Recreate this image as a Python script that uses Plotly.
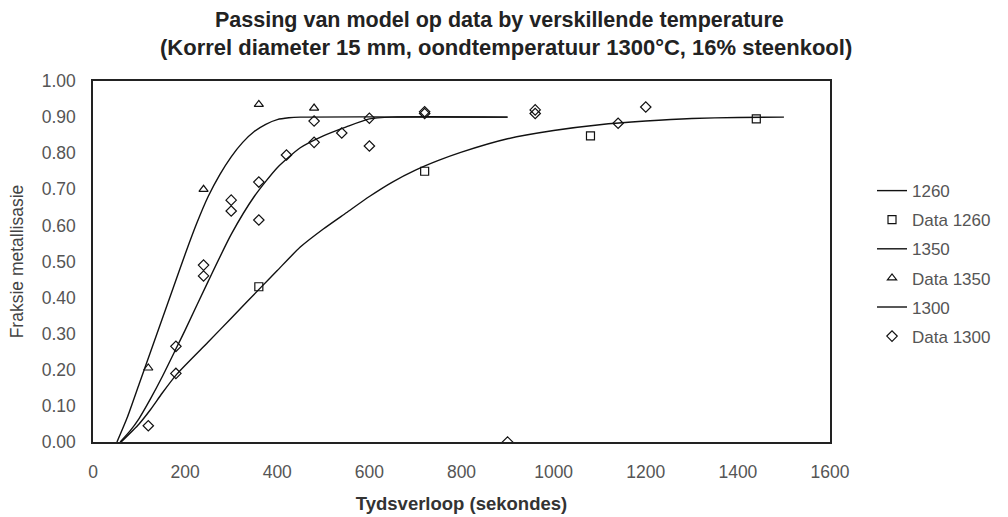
import plotly.graph_objects as go

# Model curves
t_1260 = [61, 100, 125, 150, 182, 250, 300, 365, 400, 450, 500, 550, 600, 650, 700, 750, 800, 900, 1000, 1100, 1200, 1300, 1400, 1500]
y_1260 = [0.0, 0.05, 0.09, 0.135, 0.188, 0.277, 0.343, 0.429, 0.475, 0.54, 0.59, 0.635, 0.68, 0.72, 0.753, 0.78, 0.803, 0.84, 0.863, 0.879, 0.889, 0.896, 0.899, 0.90]

t_1350 = [52, 75, 100, 125, 150, 175, 200, 225, 250, 275, 300, 325, 350, 375, 400, 425, 450, 900]
y_1350 = [0.0, 0.07, 0.16, 0.25, 0.34, 0.43, 0.52, 0.605, 0.68, 0.74, 0.79, 0.83, 0.86, 0.88, 0.893, 0.898, 0.90, 0.90]

t_1300 = [59, 80, 100, 125, 150, 182, 200, 250, 300, 350, 400, 450, 500, 550, 600, 650, 900]
y_1300 = [0.0, 0.03, 0.065, 0.12, 0.18, 0.263, 0.31, 0.445, 0.575, 0.68, 0.76, 0.815, 0.848, 0.873, 0.895, 0.90, 0.90]

# Measured data
dt_1260 = [360, 720, 1080, 1440]
dy_1260 = [0.43, 0.75, 0.848, 0.895]

dt_1350 = [120, 240, 360, 480]
dy_1350 = [0.205, 0.70, 0.935, 0.925]

dt_1300 = [120, 180, 180, 240, 240, 300, 300, 360, 360, 420, 480, 480, 540, 600, 600, 720, 720, 900, 960, 960, 1140, 1200]
dy_1300 = [0.045, 0.19, 0.265, 0.46, 0.49, 0.64, 0.67, 0.615, 0.72, 0.795, 0.83, 0.889, 0.856, 0.82, 0.897, 0.91, 0.915, 0.0, 0.92, 0.91, 0.883, 0.928]

x_ticks = [0, 200, 400, 600, 800, 1000, 1200, 1400, 1600]
y_ticks = [0.0, 0.1, 0.2, 0.3, 0.4, 0.5, 0.6, 0.7, 0.8, 0.9, 1.0]

title_1 = "Passing van model op data by verskillende temperature"
title_2 = "(Korrel diameter 15 mm, oondtemperatuur 1300°C, 16% steenkool)"

FONT = "Liberation Sans, Arial, sans-serif"
line_style = dict(color="#111", width=1.4, shape="spline", smoothing=0.6)
mk = dict(color="#111", size=8, line=dict(color="#111", width=1.2))

fig = go.Figure()
fig.add_trace(go.Scatter(x=t_1260, y=y_1260, mode="lines", name="1260", line=line_style, legendgroup="a"))
fig.add_trace(go.Scatter(x=dt_1260, y=dy_1260, mode="markers", name="Data 1260",
                         marker=dict(symbol="square-open", **mk), legendgroup="b"))
fig.add_trace(go.Scatter(x=t_1350, y=y_1350, mode="lines", name="1350", line=line_style, legendgroup="c"))
fig.add_trace(go.Scatter(x=dt_1350, y=dy_1350, mode="markers", name="Data 1350",
                         marker=dict(symbol="triangle-up-open", **mk), legendgroup="d"))
fig.add_trace(go.Scatter(x=t_1300, y=y_1300, mode="lines", name="1300", line=line_style, legendgroup="e"))
fig.add_trace(go.Scatter(x=dt_1300, y=dy_1300, mode="markers", name="Data 1300",
                         marker=dict(symbol="diamond-open", **mk), legendgroup="f"))

fig.update_layout(
    width=1008, height=517,
    margin=dict(l=93, r=178, t=81, b=75),
    paper_bgcolor="white", plot_bgcolor="white",
    font=dict(family=FONT, color="#444", size=12),
    legend=dict(
        x=1.057, xanchor="left", y=0.745, yanchor="top",
        font=dict(family=FONT, size=17, color="#555"),
        tracegroupgap=4, bgcolor="rgba(0,0,0,0)",
    ),
    showlegend=True,
    annotations=[
        dict(text="<b>" + title_1 + "</b>", xref="paper", yref="paper", x=0.551, y=1.169,
             xanchor="center", yanchor="middle", showarrow=False,
             font=dict(family=FONT, size=21.5, color="#222")),
        dict(text="<b>" + title_2 + "</b>", xref="paper", yref="paper", x=0.560, y=1.092,
             xanchor="center", yanchor="middle", showarrow=False,
             font=dict(family=FONT, size=22, color="#222")),
    ],
)
fig.update_xaxes(
    range=[0, 1600], tickvals=x_ticks, ticktext=[str(v) for v in x_ticks],
    showgrid=False, zeroline=False, showline=True, linecolor="#222", linewidth=1.5, mirror=True,
    ticks="outside", ticklen=13, tickcolor="rgba(0,0,0,0)", tickfont=dict(size=17.5, color="#555"),
    title=dict(text="<b>Tydsverloop (sekondes)</b>", font=dict(size=18.5, color="#333"), standoff=16),
    automargin=False,
)
fig.update_yaxes(
    range=[0, 1.0], tickvals=y_ticks, ticktext=[f"{v:.2f}" for v in y_ticks],
    showgrid=False, zeroline=False, showline=True, linecolor="#222", linewidth=1.5, mirror=True,
    ticks="outside", ticklen=12, tickcolor="rgba(0,0,0,0)", tickfont=dict(size=17.5, color="#555"),
    title=dict(text="Fraksie metallisasie", font=dict(size=17.5, color="#444"), standoff=14),
    automargin=False,
)

fig.write_html("out.html")
